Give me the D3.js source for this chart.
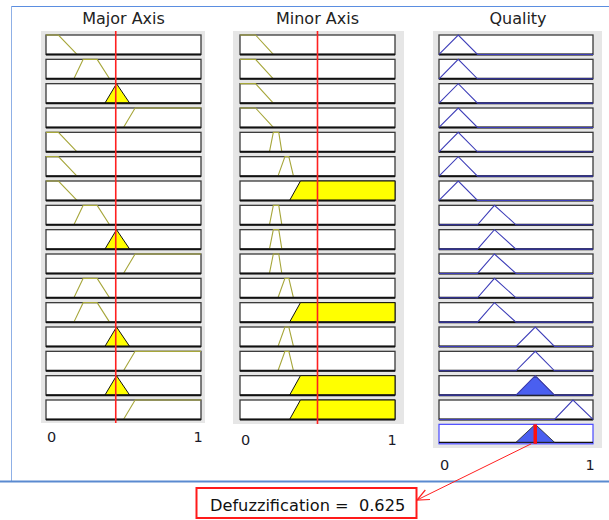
<!DOCTYPE html>
<html><head><meta charset="utf-8">
<script src="https://cdn.jsdelivr.net/npm/d3@7"></script>
<style>body{margin:0;background:#fff;} svg{display:block;}</style>
</head><body><svg id="c" width="609" height="520"></svg>
<script>
// ---- data ----
const columnTitles = ["Major Axis", "Minor Axis", "Quality"];
const tickLabels = [0, 1];
const majorInput = 0.45;
const minorInput = 0.5;
const defuzzValue = 0.625;
const defuzzLabel = "Defuzzification =  0.625";
// membership functions as trapezoids [a,b,c,d]
const majorMF = [[0, 0, 0.08, 0.2], [0.18, 0.24, 0.33, 0.41], [0.38, 0.455, 0.455, 0.54], [0.5, 0.575, 1, 1]];
const minorMF = [[0, 0, 0.1, 0.215], [0.19, 0.215, 0.25, 0.27], [0.245, 0.29, 0.315, 0.345], [0.32, 0.39, 1, 1]];
const qualityMF = [[0, 0.125, 0.125, 0.25], [0.25, 0.36, 0.36, 0.5], [0.5, 0.625, 0.625, 0.75], [0.75, 0.87, 0.87, 1]];
// rule base: MF index used by each of the 16 rules
const majorRules = [0, 1, 2, 3, 0, 0, 0, 1, 2, 3, 1, 1, 2, 3, 2, 3];
const minorRules = [0, 0, 0, 0, 1, 2, 3, 1, 1, 1, 2, 3, 2, 2, 3, 3];
const qualityRules = [0, 0, 0, 0, 0, 0, 0, 1, 1, 1, 1, 1, 2, 2, 2, 3];

// ---- helpers ----
function mu(p, x) {
  const [a, b, c, d] = p;
  if (x < a || x > d) return 0;
  if (x < b) return (x - a) / (b - a);
  if (x <= c) return 1;
  return d === c ? 1 : (d - x) / (d - c);
}
function outline(p) { return [[0, 0], [p[0], 0], [p[1], 1], [p[2], 1], [p[3], 0], [1, 0]]; }
function inner(p) {
  const pts = [];
  if (p[0] !== p[1]) pts.push([p[0], 0]);
  pts.push([p[1], 1], [p[2], 1]);
  if (p[2] !== p[3]) pts.push([p[3], 0]);
  return pts;
}
function area(p, h) {
  const [a, b, c, d] = p;
  const b2 = a + (b - a) * h, c2 = d - (d - c) * h;
  return [[a, 0], [b2, h], [c2, h], [d, 0]];
}

const FONT = "'DejaVu Sans', Verdana, sans-serif";
const svg = d3.select("#c");
const nRows = majorRules.length;
const y = d3.scaleBand().domain(d3.range(nRows + 1)).range([35, 443.8]).paddingInner(0.2).paddingOuter(0);
const xs = [
  d3.scaleLinear().domain([0, 1]).range([46, 201]),
  d3.scaleLinear().domain([0, 1]).range([240, 395]),
  d3.scaleLinear().domain([0, 1]).range([439, 593])
];
const hy = d3.scaleLinear().domain([0, 1]);

// frame
svg.append("line").attr("x1", 11).attr("x2", 609).attr("y1", 6.5).attr("y2", 6.5).attr("stroke", "#5b8ee0").attr("stroke-width", 1);
svg.append("line").attr("x1", 11.5).attr("x2", 11.5).attr("y1", 6).attr("y2", 481).attr("stroke", "#8fb0e6").attr("stroke-width", 1);
svg.append("line").attr("x1", 0).attr("x2", 609).attr("y1", 481.5).attr("y2", 481.5).attr("stroke", "#5a8ad0").attr("stroke-width", 2.2);

// panels
const panelExt = [[41, 205, 31, 423], [233, 404, 31, 424], [433, 602, 31, 448]];
panelExt.forEach(p => svg.append("rect").attr("x", p[0]).attr("y", p[2]).attr("width", p[1] - p[0]).attr("height", p[3] - p[2]).attr("fill", "#e6e6e6"));

// titles
columnTitles.forEach((t, i) => {
  svg.append("text").attr("x", (xs[i].range()[0] + xs[i].range()[1]) / 2 + (i === 2 ? 2 : 0)).attr("y", 24)
    .attr("text-anchor", "middle").attr("font-family", FONT).attr("font-size", 16)
    .attr("fill", "#222").text(t);
});

const inputs = [majorInput, minorInput];
const mfs = [majorMF, minorMF];
const rules = [majorRules, minorRules];
const olive = "#a6a63a", qLine = "#3d3db8", qFill = "#4a5ff0";
const line = d3.line();

function drawBox(g, x, yTop, h, stroke) {
  g.append("rect").attr("x", x.range()[0]).attr("y", yTop).attr("width", x.range()[1] - x.range()[0]).attr("height", h)
    .attr("fill", "#fff").attr("stroke", stroke).attr("stroke-width", 1.3);
}

const strengths = [];
for (let r = 0; r < nRows; r++) {
  const m1 = mu(majorMF[majorRules[r]], majorInput);
  const m2 = mu(minorMF[minorRules[r]], minorInput);
  strengths.push(Math.min(m1, m2));
}

// input columns
[0, 1].forEach(ci => {
  const x = xs[ci];
  const g = svg.append("g");
  for (let r = 0; r < nRows; r++) {
    const top = y(r), h = y.bandwidth();
    hy.range([top + h, top]);
    drawBox(g, x, top, h, "#3a3a3a");
    const p = mfs[ci][rules[ci][r]];
    const fired = mu(p, inputs[ci]) > 0;
    if (fired) {
      g.append("path").attr("d", line(area(p, 1).map(d => [x(d[0]), hy(d[1])])) + "Z")
        .attr("fill", "#ffff00").attr("stroke", "#111").attr("stroke-width", 1);
    } else {
      g.append("path").attr("d", line(inner(p).map(d => [x(d[0]), hy(d[1])])))
        .attr("fill", "none").attr("stroke", olive).attr("stroke-width", 1.1);
    }
    g.append("line").attr("x1", x.range()[0]).attr("x2", x.range()[1]).attr("y1", top + h).attr("y2", top + h).attr("stroke", "#111").attr("stroke-width", 2);
  }
  g.append("line").attr("x1", x(inputs[ci])).attr("x2", x(inputs[ci])).attr("y1", 31).attr("y2", panelExt[ci][3])
    .attr("stroke", "#ff2020").attr("stroke-width", 1.6);
});

// quality column
{
  const x = xs[2];
  const g = svg.append("g");
  for (let r = 0; r < nRows; r++) {
    const top = y(r), h = y.bandwidth();
    hy.range([top + h, top]);
    drawBox(g, x, top, h, "#3a3a3a");
    g.append("line").attr("x1", x.range()[0]).attr("x2", x.range()[1]).attr("y1", top + h).attr("y2", top + h).attr("stroke", "#111").attr("stroke-width", 2);
    const p = qualityMF[qualityRules[r]];
    if (strengths[r] > 0) {
      g.append("path").attr("d", line(area(p, strengths[r]).map(d => [x(d[0]), hy(d[1])])) + "Z")
        .attr("fill", qFill).attr("stroke", "#222").attr("stroke-width", 0.8);
    }
    g.append("path").attr("d", line(outline(p).map(d => [x(d[0]), hy(d[1])])))
      .attr("fill", "none").attr("stroke", qLine).attr("stroke-width", 1.1);
  }
  // aggregate row
  const top = y(nRows), h = y.bandwidth();
  hy.range([top + h - 1.5, top]);
  g.append("rect").attr("x", x.range()[0]).attr("y", top).attr("width", x.range()[1] - x.range()[0]).attr("height", h)
    .attr("fill", "#fff").attr("stroke", "#4848ff").attr("stroke-width", 1.2);
  g.append("line").attr("x1", x.range()[0]).attr("x2", x.range()[1]).attr("y1", top + h - 1.5).attr("y2", top + h - 1.5).attr("stroke", "#111").attr("stroke-width", 1.2);
  for (let r = 0; r < nRows; r++) {
    if (strengths[r] > 0) {
      const p = qualityMF[qualityRules[r]];
      g.append("path").attr("d", line(area(p, strengths[r]).map(d => [x(d[0]), hy(d[1])])) + "Z")
        .attr("fill", qFill).attr("stroke", "#222").attr("stroke-width", 0.8);
    }
  }
  g.append("line").attr("x1", x(defuzzValue)).attr("x2", x(defuzzValue)).attr("y1", top).attr("y2", top + h)
    .attr("stroke", "#ff1010").attr("stroke-width", 3.5);

  // arrow to defuzz box
  const x0 = x(defuzzValue) - 4, y0 = top + h, x1 = 417, y1 = 500;
  svg.append("line").attr("x1", x0).attr("y1", y0).attr("x2", x1).attr("y2", y1).attr("stroke", "#ff2020").attr("stroke-width", 1);
  const ang = Math.atan2(y0 - y1, x0 - x1), L = 13, a = 0.42;
  svg.append("path").attr("d", `M${x1 + L * Math.cos(ang + a)},${y1 + L * Math.sin(ang + a)}L${x1},${y1}L${x1 + L * Math.cos(ang - a)},${y1 + L * Math.sin(ang - a)}`)
    .attr("fill", "none").attr("stroke", "#ff2020").attr("stroke-width", 1.2);
}

// tick labels via axes
const tickY = [437, 440, 465];
xs.forEach((x, i) => {
  const ax = d3.axisBottom(x).tickValues(tickLabels).tickSize(0).tickFormat(d3.format("d"));
  const g = svg.append("g").attr("transform", `translate(0,${tickY[i] - 8})`).call(ax);
  g.select(".domain").remove();
  g.selectAll("text").attr("font-family", FONT).attr("font-size", 14.5).attr("fill", "#1a1a2a")
    .attr("dx", d => d === 0 ? 5 : -3.5);
});

// defuzz box
svg.append("rect").attr("x", 196.5).attr("y", 488).attr("width", 220).attr("height", 30).attr("fill", "#fff").attr("stroke", "#ff1a1a").attr("stroke-width", 2);
svg.append("text").attr("x", 210).attr("y", 510.5).attr("font-family", FONT).attr("font-size", 16.2)
  .attr("fill", "#111").style("white-space", "pre").text(defuzzLabel);
</script></body></html>
